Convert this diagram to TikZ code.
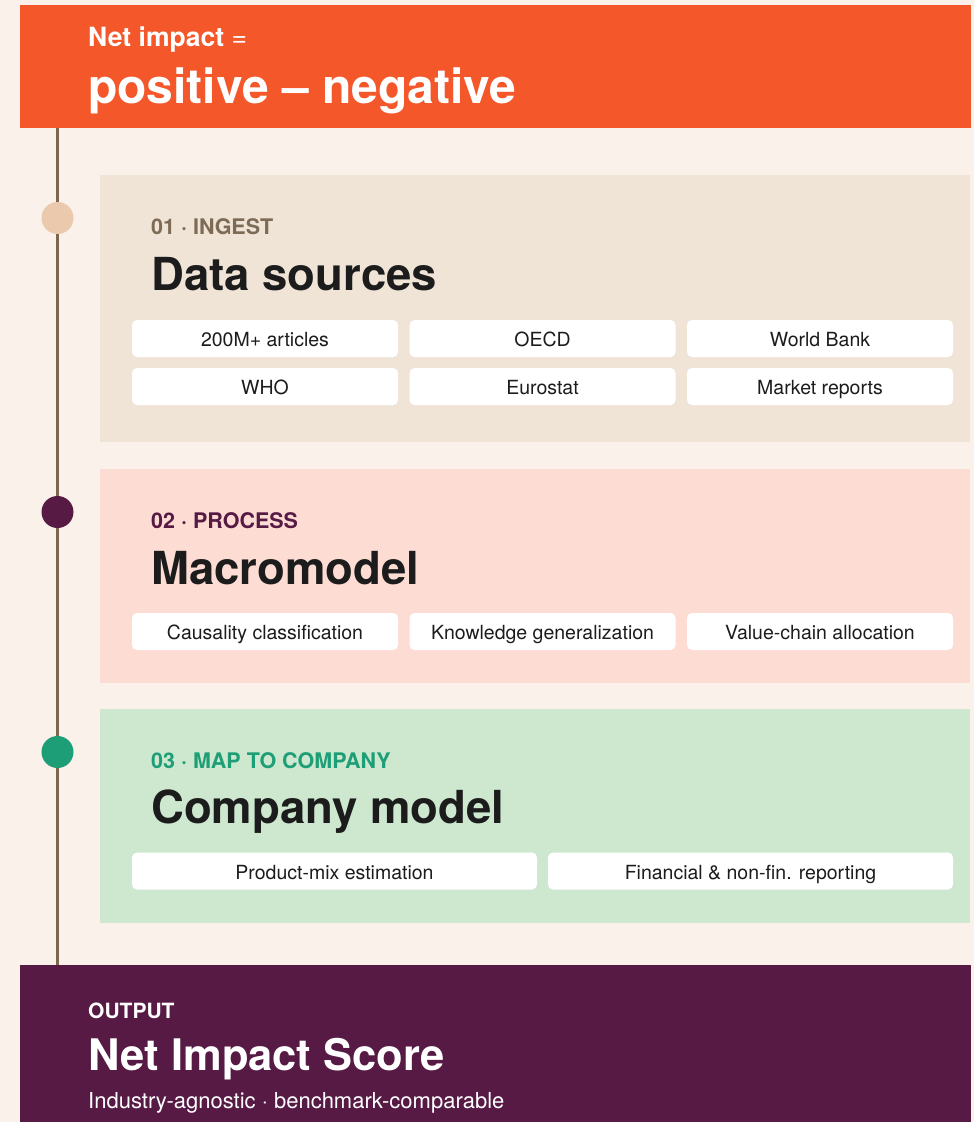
\documentclass[tikz,border=0pt]{standalone}
\usepackage{fontspec}
\setmainfont{TeX Gyre Heros}
\definecolor{bgcream}{HTML}{FAF1EB}
\definecolor{topor}{HTML}{F3572A}
\definecolor{cardA}{HTML}{F0E4D7}
\definecolor{cardB}{HTML}{FDDDD3}
\definecolor{cardC}{HTML}{CDE8CE}
\definecolor{deeppurple}{HTML}{561A45}
\definecolor{linebrown}{HTML}{7B6650}
\definecolor{peach}{HTML}{EBC9AD}
\definecolor{tealgreen}{HTML}{1E9E77}
\definecolor{tantext}{HTML}{7D6B55}
\definecolor{darktext}{HTML}{1C1C1C}
\tikzset{
  chipbox/.style={rectangle, fill=white, rounded corners=5pt, inner sep=0pt,
    minimum height=37pt, text height=16pt, text depth=0pt,
    font=\fontsize{19.5}{19.5}\selectfont, text=darktext},
  steplabel/.style={anchor=base west, inner sep=0pt, font=\fontsize{21.5}{21.5}\selectfont\bfseries},
  steptitle/.style={anchor=base west, inner sep=0pt, font=\fontsize{45.5}{45.5}\selectfont\bfseries, text=darktext},
  dotmark/.style={circle, minimum size=32pt, inner sep=0pt},
  whitetext/.style={anchor=base west, inner sep=0pt, text=white},
}
\begin{document}
\begin{tikzpicture}[x=1pt,y=-1pt]
\useasboundingbox (0,0) rectangle (974,1122);
\fill[bgcream] (0,0) rectangle (974,1122);

% timeline line
\coordinate (ltop) at (57.5,127);
\coordinate (lbot) at (57.5,966);
\draw[linebrown, line width=3pt] (ltop) -- (lbot);

% top bar
\fill[topor] (20,5) rectangle (971,127.5);
\node[whitetext, font=\fontsize{26.5}{26.5}\selectfont] (eqlabel) at (88,46) {\textbf{Net impact} =};
\node[whitetext, font=\fontsize{48}{48}\selectfont\bfseries] (formula) at (88,103) {positive – negative};

% card 1
\fill[cardA] (100,175) rectangle (970,442);
\node[dotmark, fill=peach] (d1) at (57.5,218) {};
\node[steplabel, text=tantext] (l1) at (151,234) {01 · INGEST};
\node[steptitle] (t1) at (151,290) {Data sources};
\node[chipbox, minimum width=266pt] (c11) at (265,338.5) {200M+ articles};
\node[chipbox, minimum width=266pt] (c12) at (542.5,338.5) {OECD};
\node[chipbox, minimum width=266pt] (c13) at (820,338.5) {World Bank};
\node[chipbox, minimum width=266pt] (c14) at (265,386.5) {WHO};
\node[chipbox, minimum width=266pt] (c15) at (542.5,386.5) {Eurostat};
\node[chipbox, minimum width=266pt] (c16) at (820,386.5) {Market reports};

% card 2
\fill[cardB] (100,469) rectangle (970,682.5);
\node[dotmark, fill=deeppurple] (d2) at (57.5,512) {};
\node[steplabel, text=deeppurple] (l2) at (151,528) {02 · PROCESS};
\node[steptitle] (t2) at (151,584) {Macromodel};
\node[chipbox, minimum width=266pt] (c21) at (265,631.5) {Causality classification};
\node[chipbox, minimum width=266pt] (c22) at (542.5,631.5) {Knowledge generalization};
\node[chipbox, minimum width=266pt] (c23) at (820,631.5) {Value-chain allocation};

% card 3
\fill[cardC] (100,709) rectangle (970,922.5);
\node[dotmark, fill=tealgreen] (d3) at (57.5,752) {};
\node[steplabel, text=tealgreen] (l3) at (151,768) {03 · MAP TO COMPANY};
\node[steptitle] (t3) at (151,823) {Company model};
\node[chipbox, minimum width=405pt] (c31) at (334.5,871) {Product-mix estimation};
\node[chipbox, minimum width=405pt] (c32) at (750.5,871) {Financial \& non-fin. reporting};

% output bar
\fill[deeppurple] (20,965) rectangle (971,1122);
\node[whitetext, font=\fontsize{21}{21}\selectfont\bfseries] (ol) at (88,1018) {OUTPUT};
\node[whitetext, font=\fontsize{43.5}{43.5}\selectfont\bfseries] (ot) at (88,1070) {Net Impact Score};
\node[whitetext, font=\fontsize{22}{22}\selectfont] (os) at (88,1108) {Industry-agnostic · benchmark-comparable};
\end{tikzpicture}
\end{document}
